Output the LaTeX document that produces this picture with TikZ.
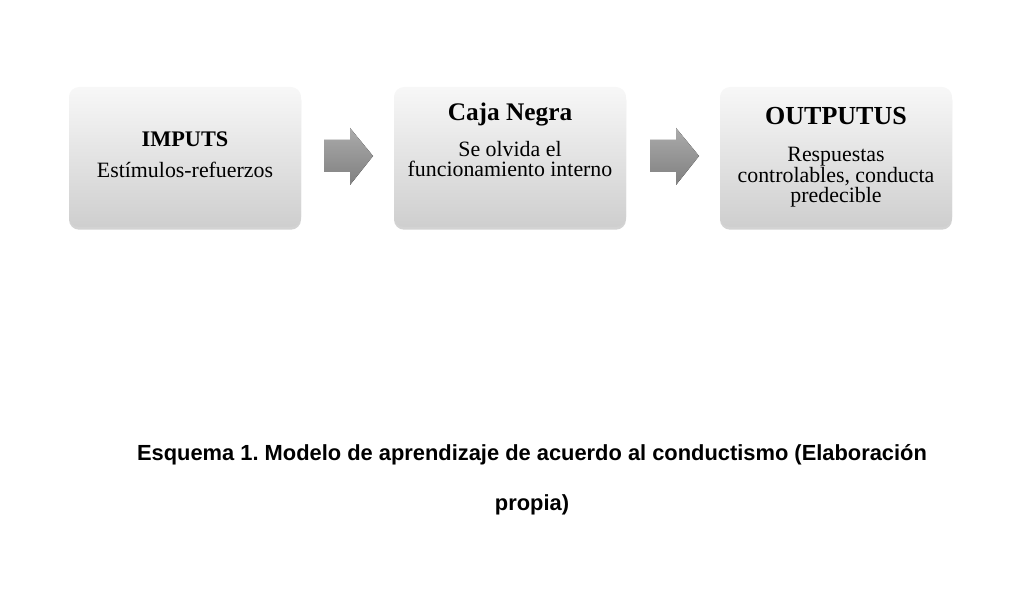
\documentclass[tikz,border=0pt]{standalone}
\usepackage{fontspec}
\setmainfont{Liberation Serif}
\newfontfamily\capfont{Liberation Sans}
\usetikzlibrary{positioning,shadows}
\frenchspacing

\tikzset{every picture/.style={line width=0.75pt}}
\tikzset{
  stagebox/.style={rounded corners=7.5, minimum width=174, minimum height=105, top color=white!97!black, bottom color=black!19, draw=none, drop shadow={shadow xshift=0pt, shadow yshift=-2pt, opacity=0.35}},
  stagetitle/.style={anchor=base, font=\bfseries\fontsize{#1}{#1}\selectfont},
  stagetext/.style={anchor=base, align=center, font=\fontsize{16.4}{15.5}\selectfont},
  flowarrow/.style={top color=black!33, bottom color=black!50, draw=none},
}

\begin{document}
\begin{tikzpicture}[x=0.75pt,y=0.75pt,yscale=-1,xscale=1]
	\useasboundingbox (0,0) rectangle (1016,602);

	% Boxes
	\node[stagebox] (imputs) at (185,157) {};
	\node[stagebox] (caja) at (510,157) {};
	\node[stagebox] (outputus) at (836,157) {};

	% Text Nodes (base = last line)
	\node[stagetitle=16.7] (imputstitle) at (185,147) {IMPUTS};
	\node[stagetext] (imputstext) at (185,178) {Estímulos-refuerzos};
	\node[stagetitle=19] (cajatitle) at (510,121) {Caja Negra};
	\node[stagetext] (cajatext) at (510,177) {Se olvida el\\ funcionamiento interno};
	\node[stagetitle=19.5] (outputustitle) at (836,125) {OUTPUTUS};
	\node[stagetext] (outputustext) at (836,203) {Respuestas\\ controlables, conducta\\ predecible};

	% Block Arrows
	\fill[flowarrow] (324,140) -- (350,140) -- (350,128) -- (373,156) -- (350,185) -- (350,172) -- (324,172) -- cycle;
	\fill[flowarrow] (650,140) -- (676,140) -- (676,128) -- (699,156) -- (676,185) -- (676,172) -- (650,172) -- cycle;

	% Caption
	\node[font=\capfont\bfseries\fontsize{16.4}{16}\selectfont, anchor=base] (caption) at (532,460) {Esquema 1. Modelo de aprendizaje de acuerdo al conductismo (Elaboración};
	\node[font=\capfont\bfseries\fontsize{16.4}{16}\selectfont, anchor=base] (captionb) at (532,510) {propia)};

	\end{tikzpicture}
\end{document}
